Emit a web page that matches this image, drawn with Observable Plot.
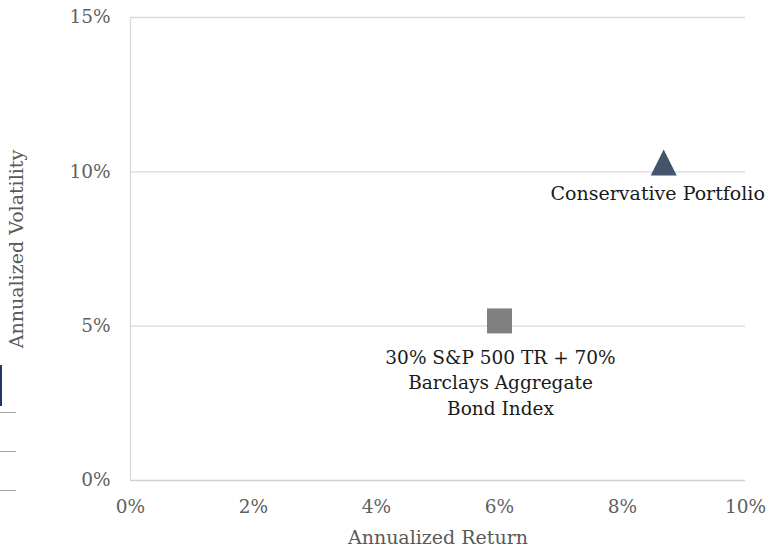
<!DOCTYPE html>
<html>
<head>
<meta charset="utf-8">
<script src="https://cdn.jsdelivr.net/npm/d3@7"></script>
<script src="https://cdn.jsdelivr.net/npm/@observablehq/plot@0.6"></script>
<style>
  html, body { margin: 0; padding: 0; background: #fff; }
  #wrap { position: relative; width: 782px; height: 546px; overflow: hidden; }
  .edge-bar { position: absolute; left: 0; top: 365px; width: 2px; height: 41px; background: #1f3864; }
  .edge-line { position: absolute; left: 0; width: 16px; height: 1px; background: #a6a6a6; }
</style>
</head>
<body>
<div id="wrap"></div>
<script>
const seriesNames = ["Conservative Portfolio", "30% S&P 500 TR + 70%\nBarclays Aggregate\nBond Index"];
const annualizedReturn = [0.0867, 0.0600];
const annualizedVolatility = [0.1030, 0.0517];
const markerSymbols = ["tri", "sq"];
const markerColors = ["#44546a", "#808080"];
const xTicks = [0, 0.02, 0.04, 0.06, 0.08, 0.10];
const yTicks = [0, 0.05, 0.10, 0.15];

const data = seriesNames.map((name, i) => ({
  name, x: annualizedReturn[i], y: annualizedVolatility[i], sym: markerSymbols[i], color: markerColors[i]
}));
const triData = data.filter(d => d.sym === "tri");
const sqData = data.filter(d => d.sym === "sq");

const triangle = {
  draw(ctx, size) {
    const r = Math.sqrt(size / Math.PI);
    ctx.moveTo(0, -r); ctx.lineTo(r, r); ctx.lineTo(-r, r); ctx.closePath();
  }
};
const square = {
  draw(ctx, size) {
    const r = Math.sqrt(size / Math.PI);
    ctx.rect(-r, -r, 2 * r, 2 * r);
  }
};

const fmt = d3.format(".0%");
const font = "'DejaVu Serif', serif";

const chart = Plot.plot({
  width: 782,
  height: 546,
  marginLeft: 130,
  marginRight: 37,
  marginTop: 17,
  marginBottom: 66,
  style: { fontFamily: font, fontSize: "15px", color: "#595959", background: "#fff" },
  x: { domain: [0, 0.10] },
  y: { domain: [0, 0.15] },
  marks: [
    Plot.gridY(yTicks.filter(d => d > 0), { stroke: "#d9d9d9", strokeOpacity: 1, strokeWidth: 1.3 }),
    Plot.ruleX([0], { stroke: "#d9d9d9", strokeWidth: 1.3 }),
    Plot.ruleY([0], { stroke: "#d0d0d0", strokeWidth: 1.5 }),
    Plot.axisY({ ticks: yTicks, tickFormat: fmt, tickSize: 0, tickPadding: 20, fontSize: 18.5,
      label: null, fill: "#5f5f5f" }),
    Plot.axisY({ ticks: [], tickSize: 0, fontSize: 19,
      label: "Annualized Volatility", labelAnchor: "center", labelOffset: 121, labelArrow: false, fill: "#595959" }),
    Plot.axisX({ ticks: xTicks, tickFormat: fmt, tickSize: 0, tickPadding: 19, fontSize: 18.5,
      label: null, fill: "#5f5f5f" }),
    Plot.axisX({ ticks: [], tickSize: 0, fontSize: 19,
      label: "Annualized Return", labelAnchor: "center", labelOffset: 63, labelArrow: false, fill: "#595959" }),
    Plot.dot(triData, { x: "x", y: "y", symbol: () => triangle, r: 13, fill: "color", stroke: null }),
    Plot.dot(sqData, { x: "x", y: "y", symbol: () => square, r: 12.5, fill: "color", stroke: null }),
    Plot.text(triData, { x: "x", y: "y", text: "name", lineAnchor: "top", dy: 24, dx: -6,
      fill: "#1a1a1a", fontSize: 19 }),
    Plot.text(sqData, { x: "x", y: "y", text: "name", lineAnchor: "top", dy: 25, dx: 1, lineHeight: 1.37,
      fill: "#1a1a1a", fontSize: 18.5 })
  ]
});

const wrap = document.getElementById("wrap");
wrap.appendChild(chart);
const bar = document.createElement("div"); bar.className = "edge-bar"; wrap.appendChild(bar);
[412, 451, 490].forEach(t => {
  const l = document.createElement("div"); l.className = "edge-line"; l.style.top = t + "px"; wrap.appendChild(l);
});
</script>
</body>
</html>
